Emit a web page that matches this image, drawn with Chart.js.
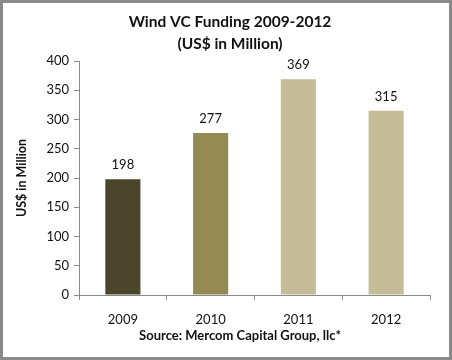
<!DOCTYPE html>
<html><head><meta charset="utf-8">
<script src="https://cdn.jsdelivr.net/npm/chart.js@4"></script>
<style>html,body{margin:0;padding:0;background:#fff}#w{width:452px;height:360px;position:relative}</style>
</head><body><div id="w"><canvas id="c" width="452" height="360"></canvas></div>
<script>
const categories = ['2009','2010','2011','2012'];
const funding = [198, 277, 369, 315];
const barColors = ['#4b452c','#948a54','#c4bd97','#c4bd97'];
const yTicks = [0,50,100,150,200,250,300,350,400];
const titleLines = ['Wind VC Funding 2009-2012','(US$ in Million)'];
const xTitle = 'Source: Mercom Capital Group, llc*';
const yTitle = 'US$ in Million';
const FONT = 'Lato, "Open Sans", sans-serif';

const labelPlugin = {
  id:'labels',
  beforeDraw(chart){
    const ctx = chart.ctx;
    ctx.save();
    ctx.fillStyle='#fff';ctx.fillRect(0,0,chart.width,chart.height);
    ctx.restore();
  },
  afterDatasetsDraw(chart){
    const ctx = chart.ctx;
    const meta = chart.getDatasetMeta(0);
    ctx.save();
    ctx.font = '13px ' + FONT;
    ctx.fillStyle = '#111';
    ctx.textAlign='center';ctx.textBaseline='middle';
    meta.data.forEach((b,i)=>{ ctx.fillText(String(funding[i]), b.x, b.y-14); });
    ctx.restore();
  },
  afterDraw(chart){
    const ctx = chart.ctx;
    ctx.save();
    ctx.fillStyle='#111';ctx.textAlign='center';ctx.textBaseline='middle';
    ctx.font='bold 15.5px '+FONT;
    ctx.fillText(titleLines[0],230,22);
    ctx.fillText(titleLines[1],230,44);
    ctx.font='bold 13px '+FONT;
    ctx.fillText(xTitle,240,336);
    const a = chart.chartArea;
    ctx.translate(22,(a.top+a.bottom)/2);
    ctx.rotate(-Math.PI/2);
    ctx.font='bold 12.5px '+FONT;
    ctx.fillText(yTitle,0,0);
    ctx.restore();
    ctx.save();
    ctx.strokeStyle='#8a8a8a';ctx.lineWidth=3;
    ctx.strokeRect(1.5,1.5,chart.width-3,chart.height-3);
    ctx.restore();
  }
};

new Chart(document.getElementById('c'),{
  type:'bar',
  data:{labels:categories,datasets:[{data:funding,backgroundColor:barColors,categoryPercentage:1,barPercentage:0.4}]},
  options:{
    responsive:false,animation:false,devicePixelRatio:1,
    layout:{padding:{left:0,right:22,top:61,bottom:0}},
    plugins:{legend:{display:false},tooltip:{enabled:false},title:{display:false}},
    scales:{
      x:{offset:true,
        afterFit(s){s.height=65;},
        grid:{display:true,drawOnChartArea:false,drawTicks:true,tickLength:5,color:'#8a8a8a'},
        border:{display:true,color:'#8a8a8a'},
        ticks:{color:'#111',font:{family:FONT,size:13},padding:12}
      },
      y:{min:0,max:400,
        afterBuildTicks(s){s.ticks=yTicks.map(v=>({value:v}));},
        afterFit(s){s.width=79;},
        grid:{display:true,drawOnChartArea:false,drawTicks:true,tickLength:5,color:'#8a8a8a'},
        border:{display:true,color:'#8a8a8a'},
        ticks:{color:'#111',font:{family:FONT,size:13},padding:5}
      }
    }
  },
  plugins:[labelPlugin]
});
</script></body></html>
